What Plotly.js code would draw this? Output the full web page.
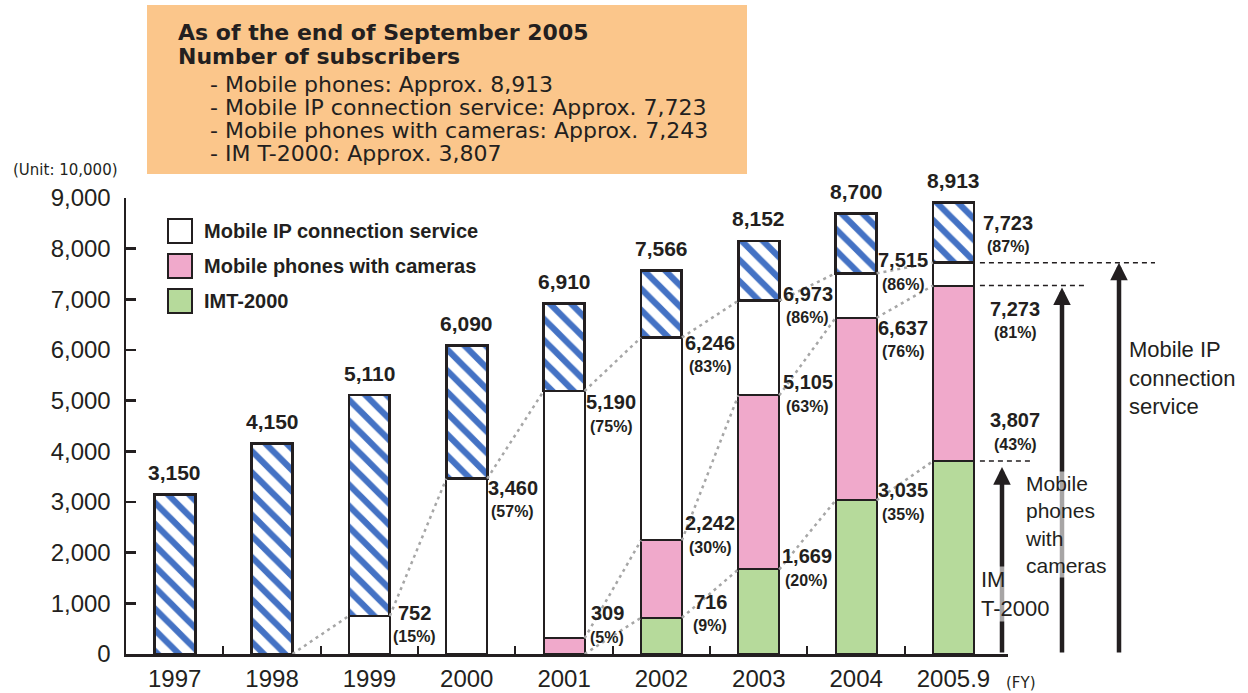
<!DOCTYPE html>
<html>
<head>
<meta charset="utf-8">
<script src="https://cdn.plot.ly/plotly-3.0.1.min.js"></script>
<style>html,body{margin:0;padding:0;background:#fff;}#chart{width:1248px;height:693px;}</style>
</head>
<body>
<div id="chart"></div>
<script>
// ---------- data ----------
const years = ['1997', '1998', '1999', '2000', '2001', '2002', '2003', '2004', '2005.9'];
const totalSubs  = [3150, 4150, 5110, 6090, 6910, 7566, 8152, 8700, 8913];
const ipSubs     = [null, 0, 752, 3460, 5190, 6246, 6973, 7515, 7723];
const cameraSubs = [null, null, null, null, 309, 2242, 5105, 6637, 7273];
const imtSubs    = [null, null, null, null, 0, 716, 1669, 3035, 3807];
const ipPct      = [null, null, '15%', '57%', '75%', '83%', '86%', '86%', '87%'];
const cameraPct  = [null, null, null, null, '5%', '30%', '63%', '76%', '81%'];
const imtPct     = [null, null, null, null, null, '9%', '20%', '35%', '43%'];
const legendNames = ['Mobile IP connection service', 'Mobile phones with cameras', 'IMT-2000'];
const boxTitle = ['As of the end of September 2005', 'Number of subscribers'];
const boxLines = ['- Mobile phones: Approx. 8,913', '- Mobile IP connection service: Approx. 7,723',
                  '- Mobile phones with cameras: Approx. 7,243', '- IM T-2000: Approx. 3,807'];

// ---------- label placement (pixel offsets, styling only) ----------
const ipDx  = [0, 0, 45, 46, 47, 49, 49, 47, 55];
const ipDy  = [0, 0, 3, -9, -11, -5, 7, 13, 40];
const camDx = [0, 0, 0, 0, 43, 49, 49, 47, 62];
const camDy = [0, 0, 0, 0, 25, 17, 13, -10, -23];
const imtDx = [0, 0, 0, 0, 0, 49, 48, 47, 62];
const imtDy = [0, 0, 0, 0, 0, 16, 13, 10, 41];

// ---------- styling ----------
const INK = '#231f20';
const BLUE = '#4472c4';
const PINK = '#f0a9cb';
const GREEN = '#b6da9b';
const ORANGE = '#fbc68b';
const GREY = '#a6a6a6';
const BAR_W = 0.42;
const XR = [-0.5, 8.56];
const PL = 126, PT = 198, PW = 882, PH = 456;
const px = x => (x - PL) / PW;
const py = y => (PT + PH - y) / PH;
const NUM = 'Liberation Sans, Arial, sans-serif';
const WIDE = 'DejaVu Sans, Verdana, sans-serif';

const idx = years.map((_, i) => i);
const green = imtSubs.map(v => (v ? v : null));
const pink = cameraSubs.map((v, i) => (v != null ? v - (imtSubs[i] || 0) : null));
const white = ipSubs.map((v, i) => (v ? v - (cameraSubs[i] || 0) : null));
const stripe = totalSubs.map((t, i) => t - (ipSubs[i] || 0));

function connector(vals) {
  const xs = [], ys = [];
  for (let i = 0; i < vals.length - 1; i++) {
    if (vals[i] != null && vals[i + 1] != null) {
      xs.push(i + BAR_W / 2, i + 1 - BAR_W / 2, null);
      ys.push(vals[i], vals[i + 1], null);
    }
  }
  return {type: 'scatter', mode: 'lines', x: xs, y: ys, hoverinfo: 'skip', showlegend: false,
          line: {color: GREY, width: 2.5, dash: '3px,4px'}};
}

const barBase = {type: 'bar', x: idx, width: BAR_W, showlegend: false, hoverinfo: 'skip'};
const traces = [
  connector(ipSubs), connector(cameraSubs), connector(imtSubs),
  Object.assign({}, barBase, {y: green, marker: {color: GREEN, line: {color: INK, width: 2}}}),
  Object.assign({}, barBase, {y: pink, marker: {color: PINK, line: {color: INK, width: 2}}}),
  Object.assign({}, barBase, {y: white, marker: {color: '#ffffff', line: {color: INK, width: 2}}}),
  Object.assign({}, barBase, {y: stripe, marker: {color: '#ffffff', line: {color: INK, width: 2.8},
     pattern: {shape: '\\', fgcolor: BLUE, bgcolor: '#ffffff', fgopacity: 1, size: 15, solidity: 0.42}}})
];

const ann = [];
const shapes = [];
// totals above bars
totalSubs.forEach((t, i) => ann.push({xref: 'x', yref: 'y', x: i, y: t, yshift: 22, showarrow: false,
  text: '<b>' + t.toLocaleString('en-US') + '</b>', font: {family: NUM, size: 21, color: INK}}));
// segment labels
function segLabels(vals, pcts, dx, dy) {
  vals.forEach((v, i) => {
    if (pcts[i] == null) return;
    ann.push({xref: 'x', yref: 'y', x: i, y: v, xshift: dx[i], yshift: dy[i], showarrow: false,
      text: '<b>' + v.toLocaleString('en-US') + '</b>', font: {family: NUM, size: 20, color: INK}});
    ann.push({xref: 'x', yref: 'y', x: i, y: v, xshift: dx[i], yshift: dy[i] - 24, showarrow: false,
      text: '<b>(' + pcts[i] + ')</b>', font: {family: NUM, size: 16, color: INK}});
  });
}
segLabels(ipSubs, ipPct, ipDx, ipDy);
segLabels(cameraSubs, cameraPct, camDx, camDy);
segLabels(imtSubs, imtPct, imtDx, imtDy);

// legend (manual)
const legColors = ['#ffffff', PINK, GREEN];
legendNames.forEach((n, k) => {
  const cy = 231 + k * 35;
  shapes.push({type: 'rect', xref: 'paper', yref: 'paper', x0: px(168), x1: px(192), y0: py(cy - 12), y1: py(cy + 12),
    fillcolor: legColors[k], line: {color: INK, width: 2}});
  ann.push({xref: 'paper', yref: 'paper', x: px(202), y: py(cy), xanchor: 'left', yanchor: 'middle', showarrow: false,
    text: '<b>' + n + '</b>', font: {family: NUM, size: 20, color: INK}});
});

// info box
shapes.push({type: 'rect', xref: 'paper', yref: 'paper', x0: px(147), x1: px(747), y0: py(174), y1: py(5),
  fillcolor: ORANGE, line: {width: 0}, layer: 'below'});
boxTitle.forEach((t, k) => ann.push({xref: 'paper', yref: 'paper', x: px(176), y: py(33 + k * 23), xanchor: 'left',
  yanchor: 'middle', showarrow: false, text: '<b>' + t + '</b>', font: {family: WIDE, size: 22, color: INK}}));
boxLines.forEach((t, k) => ann.push({xref: 'paper', yref: 'paper', x: px(208), y: py(84 + k * 23), xanchor: 'left',
  yanchor: 'middle', showarrow: false, text: t, font: {family: WIDE, size: 22, color: INK}}));

// unit & FY
ann.push({xref: 'paper', yref: 'paper', x: px(65), y: py(170), xanchor: 'center', yanchor: 'middle', showarrow: false,
  text: '(Unit: 10,000)', font: {family: WIDE, size: 15, color: INK}});
ann.push({xref: 'paper', yref: 'paper', x: px(1021), y: py(683), xanchor: 'center', yanchor: 'middle', showarrow: false,
  text: '(FY)', font: {family: WIDE, size: 15, color: INK}});

// right-side reference lines and arrows
const last = years.length - 1;
const refs = [
  {v: imtSubs[last], x1: 1030, ax: 1002, stand: 6},
  {v: cameraSubs[last], x1: 1085, ax: 1062, stand: 2},
  {v: ipSubs[last], x1: 1155, ax: 1119, stand: 0}
];
const barRight = (last + BAR_W / 2 - XR[0]) / (XR[1] - XR[0]);
refs.forEach(r => {
  shapes.push({type: 'line', xref: 'paper', yref: 'y', x0: barRight + px(132) - px(126), x1: px(r.x1), y0: r.v, y1: r.v,
    line: {color: INK, width: 1.5, dash: '5px,4px'}});
  ann.push({xref: 'paper', yref: 'y', x: px(r.ax), y: r.v, axref: 'pixel', ax: 0, ayref: 'y', ay: 0,
    showarrow: true, arrowhead: 2, arrowwidth: 4.5, arrowsize: 0.78, arrowcolor: INK, standoff: r.stand, text: ''});
});
ann.push({xref: 'paper', yref: 'paper', x: px(980), y: py(594), xanchor: 'left', yanchor: 'middle', showarrow: false,
  align: 'left', text: 'IM<br>T-2000', font: {family: NUM, size: 22, color: INK}, bgcolor: 'rgba(255,255,255,0.6)', borderpad: 0});
ann.push({xref: 'paper', yref: 'paper', x: px(1024), y: py(524), xanchor: 'left', yanchor: 'middle', showarrow: false,
  align: 'left', text: 'Mobile<br>phones<br>with<br>cameras', font: {family: NUM, size: 21, color: INK},
  bgcolor: 'rgba(255,255,255,0.6)', borderpad: 0});
ann.push({xref: 'paper', yref: 'paper', x: px(1127), y: py(378), xanchor: 'left', yanchor: 'middle', showarrow: false,
  align: 'left', text: 'Mobile IP<br>connection<br>service', font: {family: NUM, size: 22, color: INK}});

const layout = {
  width: 1248, height: 693,
  margin: {l: PL, r: 1248 - PL - PW, t: PT, b: 693 - PT - PH, pad: 0},
  paper_bgcolor: '#ffffff', plot_bgcolor: '#ffffff',
  barmode: 'stack', showlegend: false,
  font: {family: NUM, color: INK},
  xaxis: {type: 'linear', range: XR, fixedrange: true, tickvals: idx, ticktext: years, ticks: '',
    showline: true, linecolor: INK, linewidth: 2.5, showgrid: false, zeroline: false,
    tickfont: {family: NUM, size: 24, color: INK}, ticklabelstandoff: 2,
    minor: {tickvals: idx.slice(0, -1).map(i => i + 0.5), ticks: 'inside', ticklen: 8, tickwidth: 2, tickcolor: INK, showgrid: false}},
  yaxis: {range: [0, 9000], fixedrange: true, tickvals: [0, 1000, 2000, 3000, 4000, 5000, 6000, 7000, 8000, 9000],
    tickformat: ',d', ticks: 'inside', ticklen: 10, tickwidth: 2.5, tickcolor: INK,
    showline: true, linecolor: INK, linewidth: 2.5, showgrid: false, zeroline: false,
    tickfont: {family: NUM, size: 24, color: INK}, ticklabelstandoff: 8},
  annotations: ann,
  shapes: shapes
};

Plotly.newPlot('chart', traces, layout, {displayModeBar: false, staticPlot: true});
</script>
</body>
</html>
